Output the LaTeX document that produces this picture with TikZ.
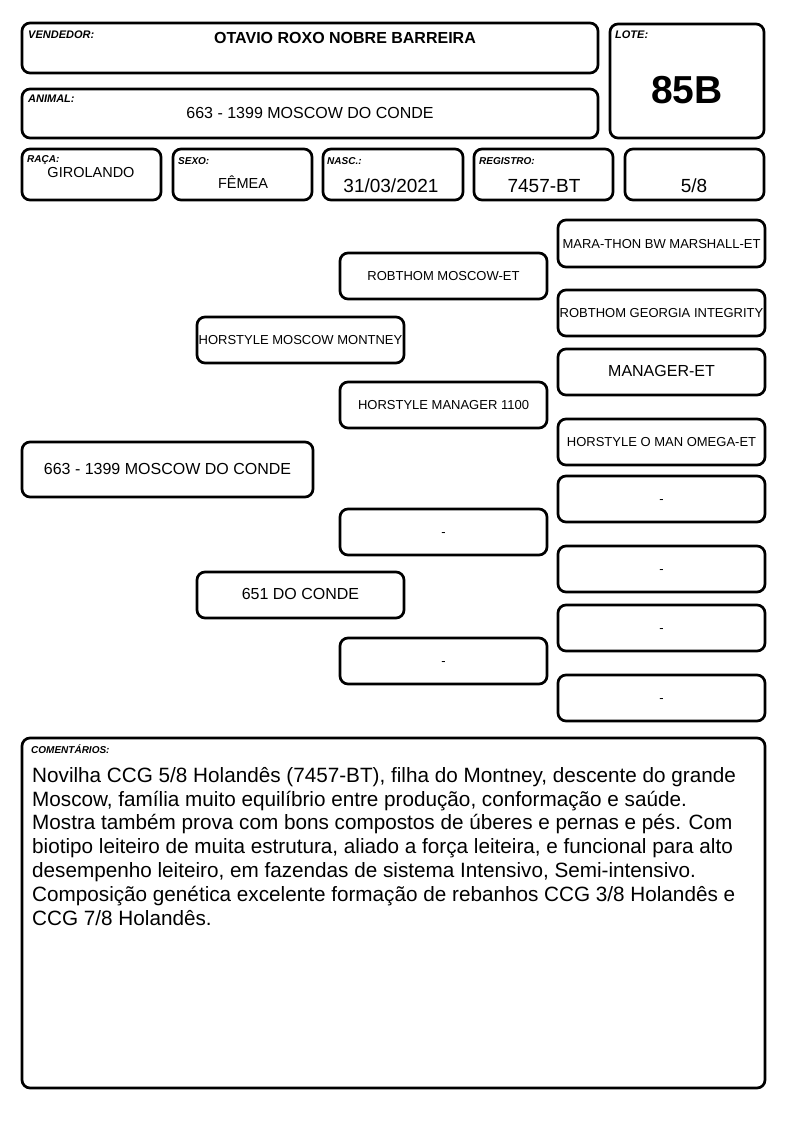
\documentclass[tikz,border=0pt]{standalone}
\usepackage{fontspec}
\setmainfont{Liberation Sans}
\begin{document}
\begin{tikzpicture}[x=1pt,y=-1pt,
  box/.style={draw, line width=2.7pt, rounded corners=8pt, inner sep=0pt, align=center},
  lbl/.style={anchor=base west, inner sep=0pt, font={\fontsize{11}{13}\selectfont\bfseries\itshape}},
  slbl/.style={anchor=base west, inner sep=0pt, font={\fontsize{10}{12}\selectfont\bfseries\itshape}},
  val/.style={anchor=base, inner sep=0pt},
  pbox/.style={box, minimum width=207pt, minimum height=46pt, text height=0.9em, text depth=0pt, font={\fontsize{13}{15}\selectfont}},
  pbig/.style={font={\fontsize{16}{18}\selectfont}}]
\useasboundingbox (0,0) rectangle (794,1123);
\fill[white] (0,0) rectangle (794,1123);

% header boxes
\node[box, minimum width=576pt, minimum height=50pt] (vend) at (310,48) {};
\node[box, minimum width=576pt, minimum height=49pt] (anim) at (310,113.5) {};
\node[box, minimum width=154pt, minimum height=114pt] (lote) at (687,81) {};
\node[box, minimum width=139pt, minimum height=51pt] (raca) at (91.5,174.5) {};
\node[box, minimum width=139pt, minimum height=51pt] (sexo) at (242.5,174.5) {};
\node[box, minimum width=140pt, minimum height=51pt] (nasc) at (393,174.5) {};
\node[box, minimum width=139pt, minimum height=51pt] (regi) at (543.5,174.5) {};
\node[box, minimum width=139pt, minimum height=51pt] (frac) at (694.5,174.5) {};

\node[lbl] (vendl) at (28,39) {VENDEDOR:};
\node[lbl] (animl) at (28,103) {ANIMAL:};
\node[lbl] (lotel) at (615,39) {LOTE:};
\node[slbl] (racal) at (27,163) {RAÇA:};
\node[slbl] (sexol) at (178,165) {SEXO:};
\node[slbl] (nascl) at (327,165) {NASC.:};
\node[slbl] (regil) at (479,165) {REGISTRO:};

\node[val, font={\fontsize{16}{18}\selectfont\bfseries}] (vendv) at (345,43.7) {OTAVIO ROXO NOBRE BARREIRA};
\node[val, font={\fontsize{16}{18}\selectfont}] (animv) at (310,118.7) {663 - 1399 MOSCOW DO CONDE};
\node[val, font={\fontsize{39}{42}\selectfont\bfseries}] (lotev) at (687,104) {85B};
\node[val, font={\fontsize{14.5}{16}\selectfont}] (racav) at (91,178) {GIROLANDO};
\node[val, font={\fontsize{14.5}{16}\selectfont}] (sexov) at (243,189) {FÊMEA};
\node[val, font={\fontsize{19}{21}\selectfont}] (nascv) at (391,193) {31/03/2021};
\node[val, font={\fontsize{19}{21}\selectfont}] (regiv) at (544,193) {7457-BT};
\node[val, font={\fontsize{19}{21}\selectfont}] (fracv) at (694,193) {5/8};

% pedigree
\node[box, minimum width=291pt, minimum height=55pt, text height=0.9em, text depth=0pt, pbig] (p1) at (167.5,469.5) {663 - 1399 MOSCOW DO CONDE};
\node[pbox] (p2a) at (300.5,340) {HORSTYLE MOSCOW MONTNEY};
\node[pbox, pbig] (p2b) at (300.5,595) {651 DO CONDE};
\node[pbox] (p3a) at (443.5,276) {ROBTHOM MOSCOW-ET};
\node[pbox] (p3b) at (443.5,405) {HORSTYLE MANAGER 1100};
\node[pbox] (p3c) at (443.5,532) {-};
\node[pbox] (p3d) at (443.5,661) {-};
\node[pbox, minimum height=47pt] (p4a) at (661.5,243.5) {MARA-THON BW MARSHALL-ET};
\node[pbox] (p4b) at (661.5,313) {ROBTHOM GEORGIA INTEGRITY};
\node[pbox, pbig] (p4c) at (661.5,372) {MANAGER-ET};
\node[pbox] (p4d) at (661.5,442) {HORSTYLE O MAN OMEGA-ET};
\node[pbox] (p4e) at (661.5,499) {-};
\node[pbox] (p4f) at (661.5,569) {-};
\node[pbox] (p4g) at (661.5,628) {-};
\node[pbox] (p4h) at (661.5,698) {-};

% comments
\node[box, minimum width=743pt, minimum height=350pt] (com) at (393.5,913) {};
\node[slbl] (coml) at (31,753) {COMENTÁRIOS:};
\node[anchor=north west, inner sep=0pt, align=left, font={\fontsize{20.7}{23.8}\selectfont}] (comt) at (32,767) {Novilha CCG 5/8 Holandês (7457-BT), filha do Montney, descente do grande\\
Moscow, família muito equilíbrio entre produção, conformação e saúde.\\
Mostra também prova com bons compostos de úberes e pernas e pés. Com\\
biotipo leiteiro de muita estrutura, aliado a força leiteira, e funcional para alto\\
desempenho leiteiro, em fazendas de sistema Intensivo, Semi-intensivo.\\
Composição genética excelente formação de rebanhos CCG 3/8 Holandês e\\
CCG 7/8 Holandês.};
\end{tikzpicture}
\end{document}
